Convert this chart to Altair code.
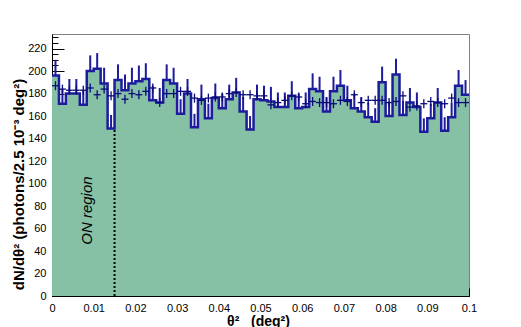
import altair as alt
import pandas as pd

# ---------------- data ----------------
x_min, x_max = 0.0, 0.1
n_bins = 60
y_max = 233

on_counts = [196, 171, 180, 180, 170, 200, 202, 189, 149, 192,
             183, 189, 191, 193, 174, 172, 192, 189, 162, 180,
             150, 175, 158, 176, 167, 175, 181, 164, 148, 175,
             174, 173, 168, 168, 178, 167, 168, 184, 182, 164,
             182, 187, 174, 167, 164, 159, 155, 190, 160, 197,
             161, 172, 168, 146, 158, 172, 147, 159, 187, 179]

on_errors = [14, 13, 13, 13, 13, 14, 14, 14, 12, 14,
             14, 14, 14, 14, 13, 13, 14, 14, 13, 13,
             12, 13, 13, 13, 13, 13, 13, 13, 12, 13,
             13, 13, 13, 13, 13, 13, 13, 14, 13, 13,
             13, 14, 13, 13, 13, 13, 12, 14, 13, 14,
             13, 13, 13, 12, 13, 13, 12, 13, 14, 13]

off_counts = [187, 184, 183, 183, 183, 185, 179, 184, 178, 180,
              175, 180, 179, 182, 185, 172, 180, 180, 182, 182,
              176, 174, 176, 177, 177, 180, 181, 179, 179, 178,
              178, 170, 172, 174, 178, 177, 171, 173, 172, 172,
              171, 174, 173, 179, 172, 174, 174, 174, 172, 173,
              178, 168, 169, 171, 173, 172, 171, 176, 172, 172]
off_error = 4

on_cut = 0.015          # ON region cut
on_cut_top = on_counts[8]
label_x, label_y = 0.0084, 76   # position of the "ON region" label

y_label_values = list(range(0, 221, 20))
y_minor_values = list(range(0, 233, 5))
x_label_values = [round(0.01 * k, 2) for k in range(11)]
x_minor_values = [round(0.002 * k, 3) for k in range(51)]

# ---------------- tables ----------------
width_bin = (x_max - x_min) / n_bins
edges = [x_min + i * width_bin for i in range(n_bins + 1)]
bins = pd.DataFrame({
    "x0": edges[:-1],
    "x1": edges[1:],
    "xc": [(a + b) / 2 for a, b in zip(edges[:-1], edges[1:])],
    "on": on_counts,
    "on_hi": [v + e for v, e in zip(on_counts, on_errors)],
    "off": off_counts,
    "off_lo": [v - off_error for v in off_counts],
    "off_hi": [v + off_error for v in off_counts],
})
step = pd.DataFrame({"x": edges, "on": on_counts + [on_counts[-1]]})
cut = pd.DataFrame({"x": [on_cut], "y0": [0], "y1": [on_cut_top]})
lab = pd.DataFrame({"x": [label_x], "y": [label_y], "t": ["ON region"]})

W, H = 417, 262
GREEN = "#86c1a6"
BLUE = "#1c1c9c"
NAVY = "#0a0a78"
FONT = "Liberation Sans"

xs = alt.Scale(domain=[x_min, x_max], nice=False, zero=False)
ys = alt.Scale(domain=[0, y_max], nice=False)

x_labels = alt.Axis(orient="bottom", values=x_label_values, ticks=False, format="~g",
                    labelFlush=False, labelOverlap=False, labelPadding=6,
                    labelFont=FONT, labelFontSize=11, labelColor="black",
                    domain=True, domainColor="black", domainWidth=1, grid=False,
                    title="θ²\u00a0\u00a0\u00a0(deg²)", titleFont=FONT, titleFontSize=14,
                    titleFontWeight="bold", titleColor="black",
                    titleX=206, titleY=25, titleAlign="center", titleBaseline="middle")
y_labels = alt.Axis(orient="left", values=y_label_values, ticks=False,
                    labelFlush=False, labelOverlap=False, labelPadding=6,
                    labelFont=FONT, labelFontSize=11, labelColor="black",
                    domain=True, domainColor="black", domainWidth=1, grid=False,
                    title="dN/dθ² (photons/2.5 10⁻³ deg²)", titleFont=FONT,
                    titleFontSize=15, titleFontWeight="bold", titleColor="black",
                    titleX=-34, titleY=150, titleAngle=270,
                    titleAlign="center", titleBaseline="middle")
x_major = alt.Axis(orient="top", offset=-H, values=x_label_values, tickSize=8,
                   tickColor="black", tickWidth=1, labels=False, domain=False,
                   grid=False, title=None)
y_major = alt.Axis(orient="right", offset=-W, values=y_label_values, tickSize=12,
                   tickColor="black", tickWidth=1, labels=False, domain=False,
                   grid=False, title=None)
x_minor = alt.Axis(orient="top", offset=-H, values=x_minor_values, tickSize=4,
                   tickColor="black", tickWidth=1, labels=False, domain=False,
                   grid=False, title=None)
y_minor = alt.Axis(orient="right", offset=-W, values=y_minor_values, tickSize=6,
                   tickColor="black", tickWidth=1, labels=False, domain=False,
                   grid=False, title=None)

fill = alt.Chart(step).mark_area(interpolate="step-after", color=GREEN).encode(
    x=alt.X("x:Q", scale=xs, axis=x_labels),
    y=alt.Y("on:Q", scale=ys, axis=y_labels),
)
errs = alt.Chart(bins).mark_rule(color=BLUE, strokeWidth=2).encode(
    x=alt.X("xc:Q", scale=xs, axis=x_minor),
    y=alt.Y("on:Q", scale=ys, axis=y_minor),
    y2="on_hi:Q",
)
outline = alt.Chart(step).mark_line(interpolate="step-after", color=BLUE,
                                    strokeWidth=2.5).encode(
    x=alt.X("x:Q", scale=xs, axis=x_major),
    y=alt.Y("on:Q", scale=ys, axis=y_major),
)
off_h = alt.Chart(bins).mark_rule(color=NAVY, strokeWidth=1.3).encode(
    x=alt.X("x0:Q", scale=xs, axis=None), x2="x1:Q",
    y=alt.Y("off:Q", scale=ys, axis=None),
)
off_v = alt.Chart(bins).mark_rule(color=NAVY, strokeWidth=1.3).encode(
    x=alt.X("xc:Q", scale=xs, axis=None),
    y=alt.Y("off_lo:Q", scale=ys, axis=None), y2="off_hi:Q",
)
cut_line = alt.Chart(cut).mark_rule(color="black", strokeWidth=2,
                                    strokeDash=[2, 2]).encode(
    x=alt.X("x:Q", scale=xs, axis=None),
    y=alt.Y("y0:Q", scale=ys, axis=None), y2="y1:Q",
)
cut_text = alt.Chart(lab).mark_text(font=FONT, fontSize=15, fontStyle="italic",
                                    angle=270, align="center", baseline="middle",
                                    color="black").encode(
    x=alt.X("x:Q", scale=xs, axis=None),
    y=alt.Y("y:Q", scale=ys, axis=None),
    text="t:N",
)

chart = alt.layer(fill, errs, outline, off_h, off_v, cut_line, cut_text).resolve_axis(
    x="independent", y="independent"
).properties(
    width=W, height=H,
    autosize=alt.AutoSizeParams(type="none"),
    padding={"left": 44, "top": 26, "right": 40, "bottom": 33},
    background="white",
).configure_view(stroke="#808080", strokeWidth=1)

chart.save("out.html", embed_options={"renderer": "svg", "actions": False})
